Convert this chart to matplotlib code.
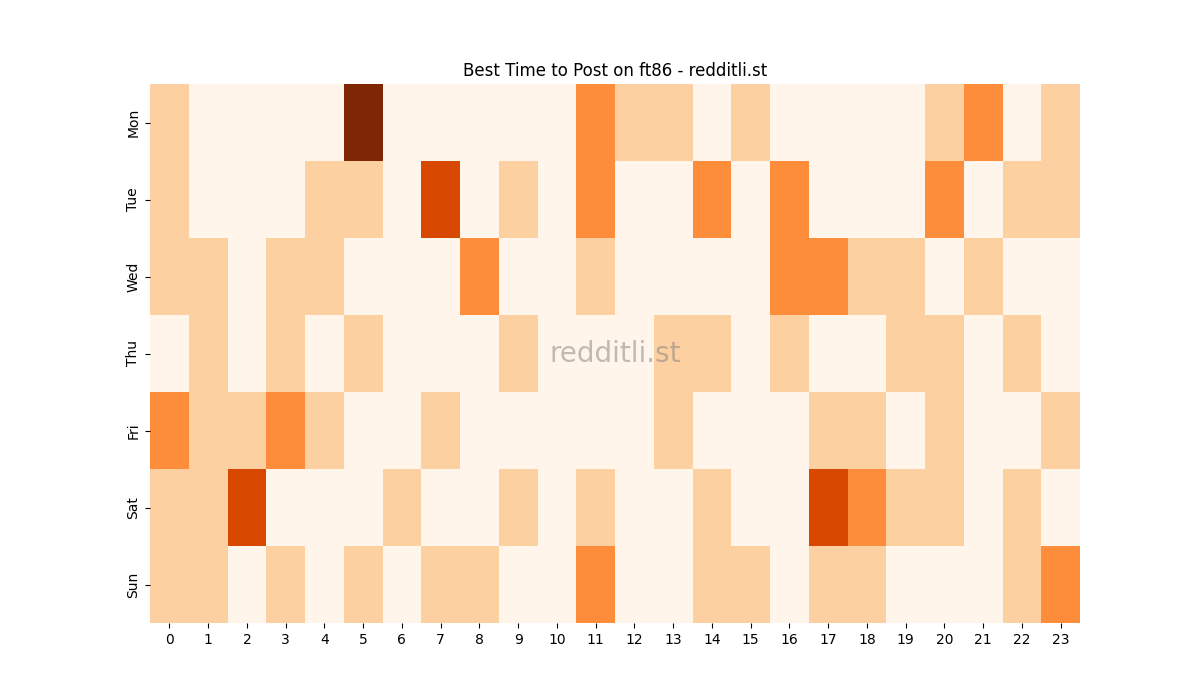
import matplotlib
matplotlib.use("Agg")
import matplotlib.pyplot as plt
import seaborn as sns
import numpy as np

days = ["Mon", "Tue", "Wed", "Thu", "Fri", "Sat", "Sun"]
hours = list(range(24))
mon = [1,0,0,0,0,4,0,0,0,0,0,2,1,1,0,1,0,0,0,0,1,2,0,1]
tue = [1,0,0,0,1,1,0,3,0,1,0,2,0,0,2,0,2,0,0,0,2,0,1,1]
wed = [1,1,0,1,1,0,0,0,2,0,0,1,0,0,0,0,2,2,1,1,0,1,0,0]
thu = [0,1,0,1,0,1,0,0,0,1,0,0,0,1,1,0,1,0,0,1,1,0,1,0]
fri = [2,1,1,2,1,0,0,1,0,0,0,0,0,1,0,0,0,1,1,0,1,0,0,1]
sat = [1,1,3,0,0,0,1,0,0,1,0,1,0,0,1,0,0,3,2,1,1,0,1,0]
sun = [1,1,0,1,0,1,0,1,1,0,0,2,0,0,1,1,0,1,1,0,0,0,1,2]

data = np.array([mon, tue, wed, thu, fri, sat, sun])

fig, ax = plt.subplots(figsize=(12, 7), dpi=100)
sns.heatmap(data, cmap="Oranges", vmin=0, vmax=4, cbar=False, ax=ax,
            xticklabels=hours, yticklabels=days)
ax.set_title("Best Time to Post on ft86 - redditli.st")
ax.text(0.5, 0.5, "redditli.st", transform=ax.transAxes, ha="center", va="center",
        fontsize=20, color="grey", alpha=0.5)
plt.yticks(rotation=90, va="center")
plt.xticks(rotation=0)
fig.savefig("out.png")
